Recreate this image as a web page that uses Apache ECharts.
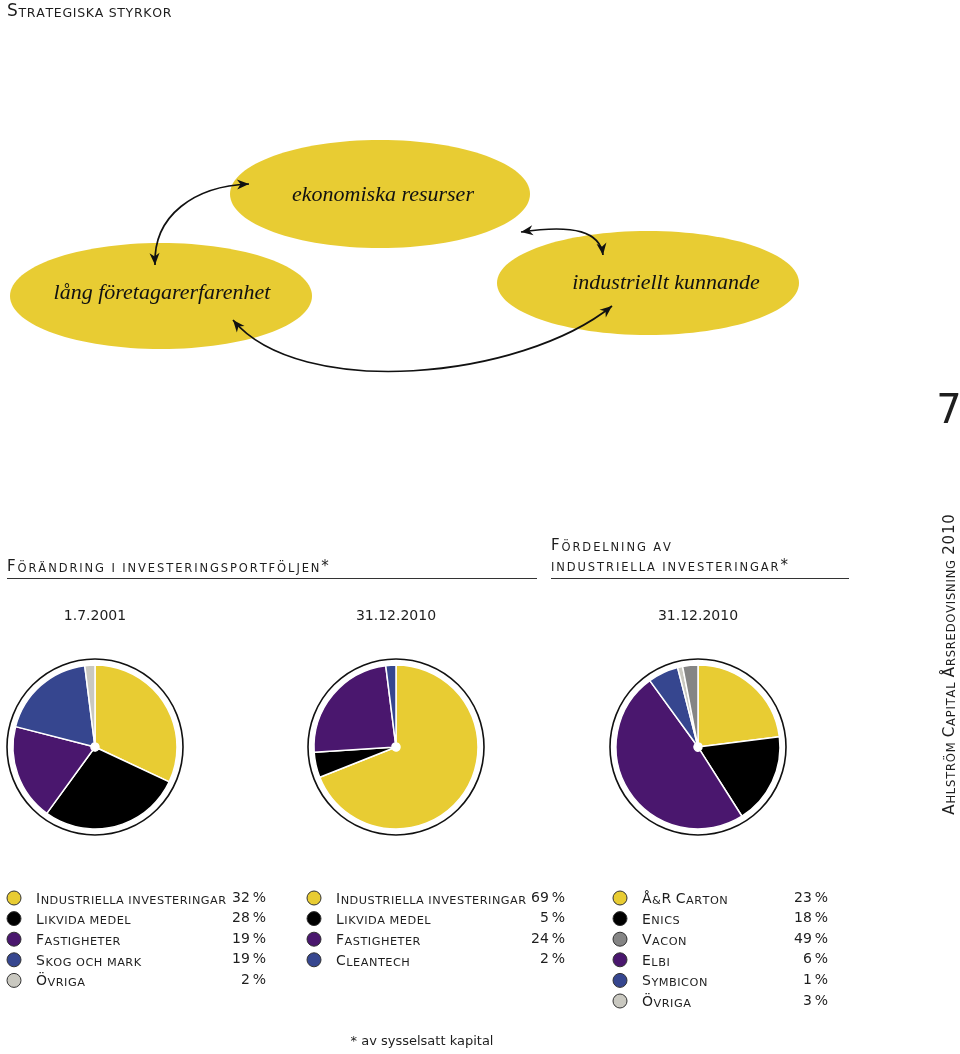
<!DOCTYPE html>
<html><head><meta charset="utf-8">
<script src="https://cdn.jsdelivr.net/npm/echarts@6/dist/echarts.min.js"></script>
<style>html,body{margin:0;padding:0;background:#fff}#c{width:960px;height:1054px}</style>
</head><body><div id="c"></div>
<script>
// ---- data ----
const pie1Date = '1.7.2001';
const pie1Labels = ['Industriella investeringar', 'Likvida medel', 'Fastigheter', 'Skog och mark', 'Övriga'];
const pie1Values = [32, 28, 19, 19, 2];
const pie2Date = '31.12.2010';
const pie2Labels = ['Industriella investeringar', 'Likvida medel', 'Fastigheter', 'Cleantech'];
const pie2Values = [69, 5, 24, 2];
const pie3Date = '31.12.2010';
const pie3Labels = ['Å&R Carton', 'Enics', 'Vacon', 'Elbi', 'Symbicon', 'Övriga'];
const pie3Values = [23, 18, 49, 6, 1, 3];
const ellipseLabels = ['ekonomiska resurser', 'lång företagarerfarenhet', 'industriellt kunnande'];

// ---- styles ----
const YEL = '#E8CC33', BLK = '#000000', PUR = '#4A176E', BLU = '#36468F', LGR = '#C9C8C0', GRY = '#858585';
const pie1Colors = [YEL, BLK, PUR, BLU, LGR];
const pie2Colors = [YEL, BLK, PUR, BLU];
const pie3Colors = [YEL, BLK, PUR, BLU, LGR, GRY];
const leg3Colors = [YEL, BLK, GRY, PUR, BLU, LGR];
const FONT = 'DejaVu Sans';
const TXT = '#1e1e1e';

function sc(str) {
  let out = '';
  for (const ch of str) {
    const big = (ch !== ch.toLowerCase()) || /[0-9*]/.test(ch);
    out += '{' + (big ? 'c' : 's') + '|' + (big ? ch : ch.toUpperCase()) + '}';
  }
  return out;
}
function scStyle(cs, ss, sp) {
  return {
    c: {fontSize: cs, fontFamily: FONT, fill: TXT, padding: [0, sp, 0, 0], verticalAlign: 'bottom', lineHeight: cs * 1.2},
    s: {fontSize: ss, fontFamily: FONT, fill: TXT, padding: [0, sp, 0, 0], verticalAlign: 'bottom', lineHeight: cs * 1.2}
  };
}
function scText(x, y, str, cs, ss, sp, align) {
  return {
    type: 'text', x: x, y: y,
    style: {text: sc(str), rich: scStyle(cs, ss, sp), align: align || 'left', verticalAlign: 'middle'}
  };
}

const els = [];
// title
els.push(scText(7, 10, 'Strategiska styrkor', 17, 12.5, 0.7));
// ellipses
const ell = [
  {cx: 380, cy: 194, rx: 150, ry: 54, tx: 383, ty: 195},
  {cx: 161, cy: 296, rx: 151, ry: 53, tx: 162, ty: 293},
  {cx: 648, cy: 283, rx: 151, ry: 52, tx: 666, ty: 283}
];
ell.forEach((e, i) => {
  els.push({type: 'ellipse', shape: {cx: e.cx, cy: e.cy, rx: e.rx, ry: e.ry}, style: {fill: YEL}});
  els.push({type: 'text', x: e.tx, y: e.ty, style: {text: ellipseLabels[i], font: 'italic 22px "Liberation Serif"', fill: '#111', align: 'center', verticalAlign: 'middle'}});
});
// arrows
function head(tx, ty, fx, fy) {
  let dx = tx - fx, dy = ty - fy; const l = Math.hypot(dx, dy); dx /= l; dy /= l;
  const L = 12, W = 5;
  const bx = tx - dx * L, by = ty - dy * L, nx = -dy, ny = dx;
  return {type: 'polygon', shape: {points: [[tx, ty], [bx + nx * W, by + ny * W], [tx - dx * L * 0.7, ty - dy * L * 0.7], [bx - nx * W, by - ny * W]]}, style: {fill: '#111'}};
}
const arrows = [
  [249, 184, 195, 186, 153, 215, 155, 265],
  [521, 232, 575, 224, 600, 232, 603, 255],
  [233, 320, 300, 400, 520, 380, 612, 306]
];
arrows.forEach(a => {
  els.push({type: 'bezierCurve', shape: {x1: a[0], y1: a[1], cpx1: a[2], cpy1: a[3], cpx2: a[4], cpy2: a[5], x2: a[6], y2: a[7]}, style: {stroke: '#111', lineWidth: 1.7, fill: null}});
  els.push(head(a[0], a[1], a[2], a[3]));
  els.push(head(a[6], a[7], a[4], a[5]));
});
// page number and side text
els.push({type: 'text', x: 949, y: 413, style: {text: '7', fontSize: 40, fontFamily: FONT, fill: TXT, align: 'center', verticalAlign: 'middle'}});
const side = scText(0, 0, 'Ahlström Capital Årsredovisning 2010', 15, 11.5, 0.8, 'center');
side.x = 949; side.y = 664; side.rotation = Math.PI / 2;
els.push(side);
// headings
els.push(scText(7, 566, 'Förändring i investeringsportföljen*', 15, 11.5, 1.9));
els.push(scText(551, 545, 'Fördelning av', 15, 11.5, 1.9));
els.push(scText(551, 565, 'industriella investeringar*', 15, 11.5, 1.9));
els.push({type: 'line', shape: {x1: 7, y1: 578.5, x2: 537, y2: 578.5}, style: {stroke: '#333', lineWidth: 1}});
els.push({type: 'line', shape: {x1: 551, y1: 578.5, x2: 849, y2: 578.5}, style: {stroke: '#333', lineWidth: 1}});
// dates
[[95, pie1Date], [396, pie2Date], [698, pie3Date]].forEach(d => {
  els.push({type: 'text', x: d[0], y: 616, style: {text: d[1], fontSize: 14, fontFamily: FONT, fill: TXT, align: 'center', verticalAlign: 'middle'}});
});
// pie rings
const centers = [[95, 747], [396, 747], [698, 747]];
centers.forEach(c => {
  els.push({type: 'circle', z: 10, shape: {cx: c[0], cy: c[1], r: 88}, style: {fill: null, stroke: '#111', lineWidth: 1.6}});
});
// legends
function legend(cx, lx, px, labels, values, colors) {
  labels.forEach((lab, i) => {
    const y = 898 + i * 20.6;
    els.push({type: 'circle', shape: {cx: cx, cy: y, r: 7}, style: {fill: colors[i], stroke: '#333', lineWidth: 1}});
    els.push(scText(lx, y, lab, 14, 11.3, 0.5));
    els.push({type: 'text', x: px, y: y, style: {text: values[i] + '\u2009%', fontSize: 14, fontFamily: FONT, fill: TXT, align: 'right', verticalAlign: 'middle'}});
  });
}
legend(14, 36, 266, pie1Labels, pie1Values, pie1Colors);
legend(314, 336, 565, pie2Labels, pie2Values, pie2Colors);
legend(620, 642, 828, pie3Labels, pie3Values, leg3Colors);
// footnote
els.push({type: 'text', x: 422, y: 1042, style: {text: '* av sysselsatt kapital', fontSize: 13, fontFamily: FONT, fill: TXT, align: 'center', verticalAlign: 'middle'}});

function pieSeries(center, labels, values, colors) {
  return {
    type: 'pie', center: center, radius: [4, 82], startAngle: 90, clockwise: true, silent: true,
    label: {show: false}, labelLine: {show: false}, emphasis: {disabled: true},
    itemStyle: {borderColor: '#fff', borderWidth: 1.5},
    data: labels.map((n, i) => ({name: n, value: values[i], itemStyle: {color: colors[i]}}))
  };
}

const chart = echarts.init(document.getElementById('c'), null, {renderer: 'canvas'});
chart.setOption({
  animation: false,
  backgroundColor: '#fff',
  series: [
    pieSeries(centers[0], pie1Labels, pie1Values, pie1Colors),
    pieSeries(centers[1], pie2Labels, pie2Values, pie2Colors),
    pieSeries(centers[2], pie3Labels, pie3Values, pie3Colors)
  ],
  graphic: {elements: els}
});
</script></body></html>
